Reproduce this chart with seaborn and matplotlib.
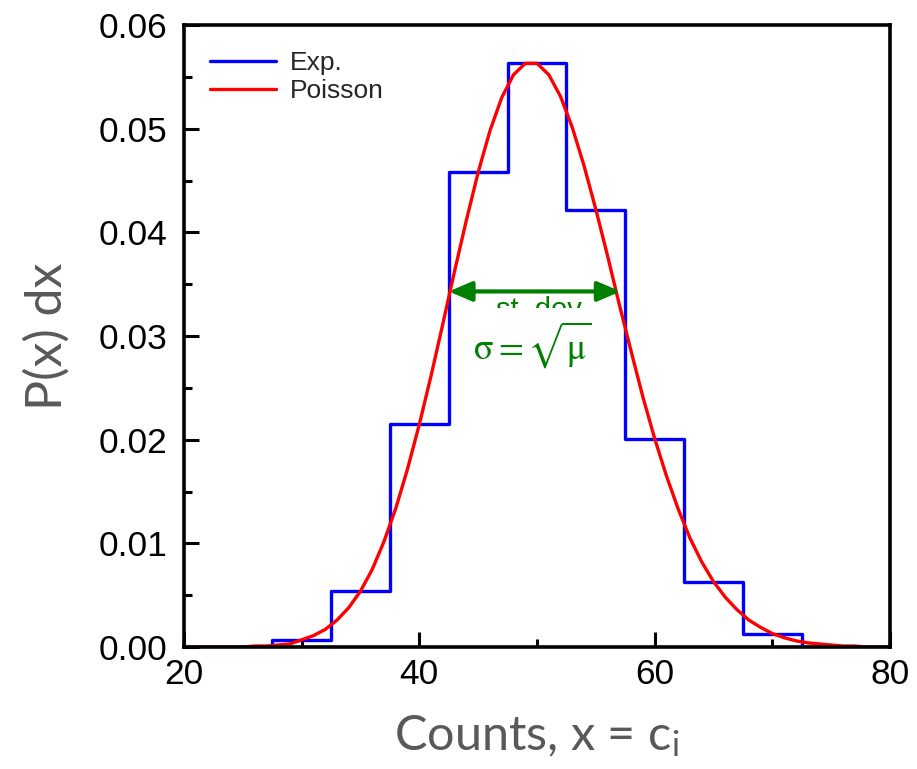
import matplotlib
matplotlib.use("Agg")
import matplotlib.pyplot as plt
import seaborn as sns
import pandas as pd
from matplotlib.patches import Rectangle
from matplotlib.ticker import MultipleLocator, FormatStrFormatter

# experimental histogram (bin centres, width 5)
bin_centers = [20, 25, 30, 35, 40, 45, 50, 55, 60, 65, 70, 75, 80]
exp_vals = [0.0, 0.0, 0.0007, 0.0054, 0.0215, 0.0458, 0.0563, 0.0422,
            0.0201, 0.0063, 0.0013, 0.0, 0.0]

# Poisson curve, read at integer counts 20..80
poisson_x = list(range(20, 81))
poisson_y = [0.0000, 0.0000, 0.0000, 0.0000, 0.0000, 0.0000, 0.0001, 0.0001,
             0.0002, 0.0003, 0.0007, 0.0011, 0.0017, 0.0026, 0.0038, 0.0054,
             0.0075, 0.0102, 0.0134, 0.0172, 0.0215, 0.0262, 0.0312, 0.0363,
             0.0412, 0.0458, 0.0498, 0.0530, 0.0552, 0.0563, 0.0563, 0.0552,
             0.0531, 0.0501, 0.0464, 0.0422, 0.0377, 0.0330, 0.0285, 0.0241,
             0.0201, 0.0165, 0.0133, 0.0105, 0.0082, 0.0063, 0.0048, 0.0036,
             0.0026, 0.0019, 0.0013, 0.0009, 0.0006, 0.0004, 0.0003, 0.0002,
             0.0001, 0.0001, 0.0000, 0.0000, 0.0000]

exp_df = pd.DataFrame({"x": bin_centers, "p": exp_vals})
poi_df = pd.DataFrame({"x": poisson_x, "p": poisson_y})

sns.set_style("ticks")
plt.rcParams["font.family"] = ["Liberation Sans", "DejaVu Sans"]
plt.rcParams["mathtext.fontset"] = "stix"

fig = plt.figure(figsize=(9.17, 7.69), dpi=100)
ax = fig.add_axes([0.2007, 0.1586, 0.7699, 0.8089])

sns.lineplot(data=exp_df, x="x", y="p", ax=ax, color="#0000ff", lw=2.4,
             drawstyle="steps-mid", estimator=None, label="Exp.")
sns.lineplot(data=poi_df, x="x", y="p", ax=ax, color="#ff0000", lw=2.4,
             estimator=None, label="Poisson")

ax.set_xlim(20, 80)
ax.set_ylim(0, 0.06)
ax.xaxis.set_major_locator(MultipleLocator(20))
ax.xaxis.set_minor_locator(MultipleLocator(10))
ax.yaxis.set_major_locator(MultipleLocator(0.01))
ax.yaxis.set_minor_locator(MultipleLocator(0.005))
ax.yaxis.set_major_formatter(FormatStrFormatter("%.2f"))

for s in ax.spines.values():
    s.set_linewidth(2.6)
    s.set_color("black")
ax.tick_params(which="both", direction="in", width=2.2, colors="black",
               labelsize=25.5, top=False, right=False)
ax.tick_params(which="major", length=11)
ax.tick_params(which="minor", length=5.5)
ax.tick_params(axis="y", pad=12)
ax.tick_params(axis="x", pad=8)

ax.set_xlabel("Counts, x = c$_\\mathregular{i}$", fontsize=35, color="#595959",
              family=["Lato", "DejaVu Sans"], labelpad=16)
ax.set_ylabel("P(x) dx", fontsize=36, color="#595959",
              family=["Lato", "DejaVu Sans"], labelpad=20)

# st. dev. arrow
ax.annotate("", xy=(42.5, 0.0343), xytext=(57.1, 0.0343),
            arrowprops=dict(arrowstyle="<|-|>,head_length=1.4,head_width=0.6",
                            color="#008000", lw=3, shrinkA=0, shrinkB=0))
ax.text(46.5, 0.0339, "st. dev.", color="#008000", fontsize=21,
        ha="left", va="top", zorder=1.2)
# only the upper half of that label shows in the original: mask the rest
ax.add_patch(Rectangle((44.0, 0.0252), 12.0, 0.0075, facecolor="white",
                       edgecolor="none", zorder=1.5))
ax.text(49.6, 0.0292, r"$\mathrm{\sigma} = \sqrt{\mathrm{\mu}}$",
        color="#008000", fontsize=26, ha="center", va="center", zorder=4)

leg = ax.legend(loc="upper left", frameon=False, fontsize=19,
                handlelength=2.5, handletextpad=0.5, labelspacing=0.15,
                borderaxespad=0.6)

fig.savefig("out.png", dpi=100)
